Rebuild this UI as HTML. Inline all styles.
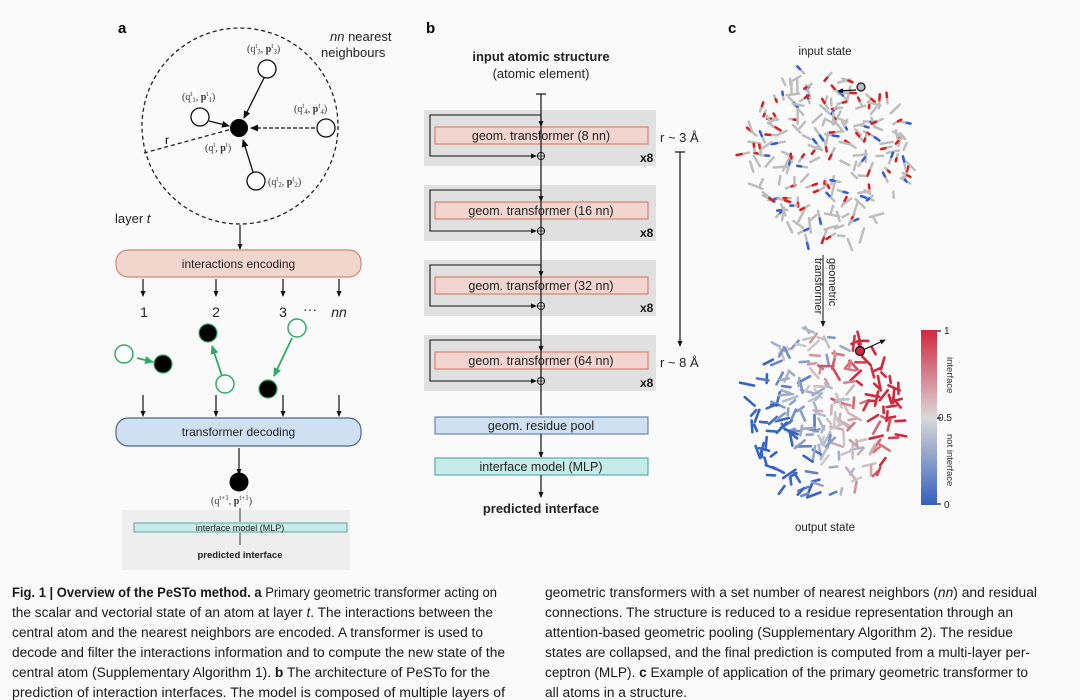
<!DOCTYPE html>
<html><head><meta charset="utf-8"><style>
html,body{margin:0;padding:0;background:#fafafa;}
svg{display:block;font-family:"Liberation Sans",sans-serif;}
</style></head><body>
<svg id="s" width="1080" height="700" viewBox="0 0 1080 700" xmlns="http://www.w3.org/2000/svg">
<defs>
<marker id="ah" markerWidth="8" markerHeight="8" refX="7" refY="4" orient="auto" markerUnits="userSpaceOnUse"><path d="M0,0.5 L8,4 L0,7.5 z" fill="#111"/></marker>
<marker id="ahs" markerWidth="6" markerHeight="6" refX="5" refY="3" orient="auto" markerUnits="userSpaceOnUse"><path d="M0,0.5 L6,3 L0,5.5 z" fill="#111"/></marker>
<marker id="ag" markerWidth="9" markerHeight="9" refX="8" refY="4.5" orient="auto" markerUnits="userSpaceOnUse"><path d="M0,0.5 L9,4.5 L0,8.5 z" fill="#2faa6a"/></marker>
<linearGradient id="cb" x1="0" y1="0" x2="0" y2="1"><stop offset="0" stop-color="#d1273f"/><stop offset="0.5" stop-color="#d9d9d9"/><stop offset="1" stop-color="#3560bd"/></linearGradient>
</defs>
<rect width="1080" height="700" fill="#fafafa"/>

<!-- Panel a -->
<text x="118" y="33" font-size="15" font-weight="bold">a</text>
<circle cx="240" cy="126" r="98" fill="none" stroke="#222" stroke-width="1.3" stroke-dasharray="4,3"/>
<text x="330" y="41" font-size="13" fill="#222"><tspan font-style="italic">nn</tspan> nearest</text>
<text x="321" y="57" font-size="13" fill="#222">neighbours</text>
<line x1="144" y1="153" x2="232" y2="129" stroke="#222" stroke-width="1.3" stroke-dasharray="4,3"/>
<text x="165" y="144" font-size="12">r</text>
<line x1="264" y1="78" x2="244" y2="118" stroke="#111" stroke-width="1.3" marker-end="url(#ah)"/>
<line x1="209" y1="121" x2="229" y2="126" stroke="#111" stroke-width="1.3" marker-end="url(#ah)"/>
<line x1="315" y1="128" x2="251" y2="128" stroke="#111" stroke-width="1.3" stroke-dasharray="4,2" marker-end="url(#ah)"/>
<line x1="253" y1="172" x2="243" y2="140" stroke="#111" stroke-width="1.3" marker-end="url(#ah)"/>
<circle cx="239" cy="128" r="9" fill="#000"/>
<circle cx="267" cy="69" r="9" fill="#fff" stroke="#111" stroke-width="1.3"/>
<circle cx="200" cy="117" r="9" fill="#fff" stroke="#111" stroke-width="1.3"/>
<circle cx="326" cy="128" r="9" fill="#fff" stroke="#111" stroke-width="1.3"/>
<circle cx="256" cy="181" r="9" fill="#fff" stroke="#111" stroke-width="1.3"/>
<g font-family="Liberation Serif,serif" font-size="10" fill="#333">
<text x="247" y="52">(q<tspan font-size="7" dy="-4">t</tspan><tspan font-size="7" dy="6">3</tspan><tspan dy="-2">, </tspan><tspan font-weight="bold">p</tspan><tspan font-size="7" dy="-4">t</tspan><tspan font-size="7" dy="6">3</tspan><tspan dy="-2">)</tspan></text>
<text x="182" y="100">(q<tspan font-size="7" dy="-4">t</tspan><tspan font-size="7" dy="6">1</tspan><tspan dy="-2">, </tspan><tspan font-weight="bold">p</tspan><tspan font-size="7" dy="-4">t</tspan><tspan font-size="7" dy="6">1</tspan><tspan dy="-2">)</tspan></text>
<text x="294" y="112">(q<tspan font-size="7" dy="-4">t</tspan><tspan font-size="7" dy="6">4</tspan><tspan dy="-2">, </tspan><tspan font-weight="bold">p</tspan><tspan font-size="7" dy="-4">t</tspan><tspan font-size="7" dy="6">4</tspan><tspan dy="-2">)</tspan></text>
<text x="205" y="151">(q<tspan font-size="7" dy="-4">t</tspan><tspan dy="4">, </tspan><tspan font-weight="bold">p</tspan><tspan font-size="7" dy="-4">t</tspan><tspan dy="4">)</tspan></text>
<text x="268" y="185">(q<tspan font-size="7" dy="-4">t</tspan><tspan font-size="7" dy="6">2</tspan><tspan dy="-2">, </tspan><tspan font-weight="bold">p</tspan><tspan font-size="7" dy="-4">t</tspan><tspan font-size="7" dy="6">2</tspan><tspan dy="-2">)</tspan></text>
</g>
<text x="115" y="223" font-size="13" fill="#222">layer <tspan font-style="italic">t</tspan></text>
<line x1="240" y1="225" x2="240" y2="249" stroke="#111" stroke-width="1.2" marker-end="url(#ahs)"/>
<rect x="116" y="250" width="245" height="27" rx="12" fill="#f1d6ce" stroke="#c98a7c" stroke-width="1.2"/>
<text x="238.5" y="268" font-size="12" text-anchor="middle" fill="#222">interactions encoding</text>
<g stroke="#111" stroke-width="1.2">
<line x1="143" y1="279" x2="143" y2="296" marker-end="url(#ahs)"/>
<line x1="216" y1="279" x2="216" y2="296" marker-end="url(#ahs)"/>
<line x1="283" y1="279" x2="283" y2="296" marker-end="url(#ahs)"/>
<line x1="339" y1="279" x2="339" y2="296" marker-end="url(#ahs)"/>
<line x1="143" y1="395" x2="143" y2="416" marker-end="url(#ahs)"/>
<line x1="216" y1="395" x2="216" y2="416" marker-end="url(#ahs)"/>
<line x1="283" y1="395" x2="283" y2="416" marker-end="url(#ahs)"/>
<line x1="339" y1="395" x2="339" y2="416" marker-end="url(#ahs)"/>
</g>
<g font-size="14" fill="#222" text-anchor="middle">
<text x="144" y="317">1</text><text x="216" y="317">2</text><text x="283" y="317">3</text>
<text x="310" y="314">···</text><text x="339" y="317" font-style="italic">nn</text>
</g>
<line x1="137" y1="358" x2="153" y2="362" stroke="#2faa6a" stroke-width="1.8" marker-end="url(#ag)"/>
<line x1="222" y1="376" x2="212" y2="346" stroke="#2faa6a" stroke-width="1.8" marker-end="url(#ag)"/>
<line x1="292" y1="338" x2="274" y2="376" stroke="#2faa6a" stroke-width="1.8" marker-end="url(#ag)"/>
<circle cx="124" cy="354" r="9" fill="#fff" stroke="#2faa6a" stroke-width="1.5"/>
<circle cx="163" cy="364" r="9" fill="#000" stroke="#2faa6a" stroke-width="1.2"/>
<circle cx="208" cy="333" r="9" fill="#000" stroke="#2faa6a" stroke-width="1.2"/>
<circle cx="225" cy="384" r="9" fill="#fff" stroke="#2faa6a" stroke-width="1.5"/>
<circle cx="297" cy="328" r="9" fill="#fff" stroke="#2faa6a" stroke-width="1.5"/>
<circle cx="268" cy="389" r="9" fill="#000" stroke="#2faa6a" stroke-width="1.2"/>
<rect x="116" y="418" width="245" height="28" rx="12" fill="#cfe0f2" stroke="#4b6685" stroke-width="1.2"/>
<text x="238.5" y="436" font-size="12" text-anchor="middle" fill="#222">transformer decoding</text>
<line x1="239" y1="448" x2="239" y2="474" stroke="#111" stroke-width="1.2" marker-end="url(#ahs)"/>
<circle cx="239" cy="482" r="9.5" fill="#000"/>
<text x="211" y="504" font-family="Liberation Serif,serif" font-size="10" fill="#333">(q<tspan font-size="7" dy="-4">t+1</tspan><tspan dy="4">, </tspan><tspan font-weight="bold">p</tspan><tspan font-size="7" dy="-4">t+1</tspan><tspan dy="4">)</tspan></text>
<rect x="122" y="510" width="228" height="60" fill="#eeeeee"/>
<line x1="240" y1="508" x2="240" y2="522" stroke="#111" stroke-width="0.8"/>
<rect x="134" y="523" width="213" height="9" fill="#c6ecea" stroke="#5aa8a6" stroke-width="1"/>
<text x="240" y="531" font-size="9" text-anchor="middle" fill="#222">interface model (MLP)</text>
<line x1="240" y1="533" x2="240" y2="545" stroke="#111" stroke-width="0.8"/>
<text x="240" y="558" font-size="9.5" font-weight="bold" text-anchor="middle" fill="#222">predicted interface</text>

<!-- Panel b -->
<text x="426" y="33" font-size="15" font-weight="bold">b</text>
<text x="541" y="61" font-size="13" font-weight="bold" text-anchor="middle" fill="#222">input atomic structure</text>
<text x="541" y="78" font-size="13" text-anchor="middle" fill="#222">(atomic element)</text>
<line x1="536" y1="94" x2="546" y2="94" stroke="#111" stroke-width="1.2"/>
<g id="blocks"></g>
<line x1="541" y1="94" x2="541" y2="415" stroke="#111" stroke-width="1.2"/>
<text x="660" y="142" font-size="13" fill="#222">r ~ 3 Å</text>
<text x="660" y="367" font-size="13" fill="#222">r ~ 8 Å</text>
<line x1="675" y1="152" x2="685" y2="152" stroke="#111" stroke-width="1.2"/>
<line x1="680" y1="152" x2="680" y2="346" stroke="#111" stroke-width="1.2" marker-end="url(#ahs)"/>
<rect x="435" y="417" width="213" height="17" fill="#cfe0f2" stroke="#5a7fa8" stroke-width="1.1"/>
<text x="541" y="430" font-size="12.5" text-anchor="middle" fill="#222">geom. residue pool</text>
<line x1="541" y1="434" x2="541" y2="457" stroke="#111" stroke-width="1.2" marker-end="url(#ahs)"/>
<rect x="435" y="458" width="213" height="17" fill="#c6ecea" stroke="#4aa8a6" stroke-width="1.1"/>
<text x="541" y="471" font-size="12.5" text-anchor="middle" fill="#222">interface model (MLP)</text>
<line x1="541" y1="475" x2="541" y2="497" stroke="#111" stroke-width="1.2" marker-end="url(#ahs)"/>
<text x="541" y="513" font-size="13" font-weight="bold" text-anchor="middle" fill="#222">predicted interface</text>

<!-- Panel c -->
<text x="728" y="33" font-size="15" font-weight="bold">c</text>
<text x="825" y="55" font-size="11.5" text-anchor="middle" fill="#222">input state</text>
<g id="mol1"></g>
<g id="mol2"></g>
<line x1="856" y1="90" x2="838" y2="91" stroke="#111" stroke-width="1.2" marker-end="url(#ahs)"/>
<circle cx="861" cy="87" r="4" fill="#bbb" stroke="#111" stroke-width="1.2"/>
<line x1="823" y1="255" x2="823" y2="326" stroke="#333" stroke-width="1.2" marker-end="url(#ahs)"/>
<text transform="translate(829,258) rotate(90)" font-size="11" fill="#222">geometric</text>
<text transform="translate(815,258) rotate(90)" font-size="11" fill="#222">transformer</text>
<line x1="863" y1="350" x2="885" y2="340" stroke="#111" stroke-width="1.2" marker-end="url(#ahs)"/>
<circle cx="860" cy="351" r="4.5" fill="#d1273f" stroke="#111" stroke-width="1.2"/>
<rect x="921" y="330" width="16" height="175" fill="url(#cb)"/>
<g stroke="#111" stroke-width="1.2"><line x1="937" y1="331" x2="941" y2="331"/><line x1="937" y1="418" x2="941" y2="418"/><line x1="937" y1="504" x2="941" y2="504"/></g>
<g font-size="10" fill="#222"><text x="944" y="334">1</text><text x="938" y="421">0.5</text><text x="944" y="508">0</text></g>
<text transform="translate(947,357) rotate(90)" font-size="9.5" fill="#333">interface</text>
<text transform="translate(947,434) rotate(90)" font-size="9.5" fill="#333">not interface</text>
<text x="825" y="531" font-size="11.5" text-anchor="middle" fill="#222">output state</text>

<!-- Caption -->
<g font-size="13.5" fill="#1a1a1a">
<text x="12" y="597" textLength="485" lengthAdjust="spacingAndGlyphs"><tspan font-weight="bold">Fig. 1 | Overview of the PeSTo method. a</tspan> Primary geometric transformer acting on</text>
<text x="12" y="617" textLength="481" lengthAdjust="spacingAndGlyphs">the scalar and vectorial state of an atom at layer <tspan font-style="italic">t</tspan>. The interactions between the</text>
<text x="12" y="637" textLength="471" lengthAdjust="spacingAndGlyphs">central atom and the nearest neighbors are encoded. A transformer is used to</text>
<text x="12" y="657" textLength="493" lengthAdjust="spacingAndGlyphs">decode and filter the interactions information and to compute the new state of the</text>
<text x="12" y="677" textLength="478" lengthAdjust="spacingAndGlyphs">central atom (Supplementary Algorithm 1). <tspan font-weight="bold">b</tspan> The architecture of PeSTo for the</text>
<text x="12" y="697" textLength="493" lengthAdjust="spacingAndGlyphs">prediction of interaction interfaces. The model is composed of multiple layers of</text>
<text x="545" y="597" textLength="492" lengthAdjust="spacingAndGlyphs">geometric transformers with a set number of nearest neighbors (<tspan font-style="italic">nn</tspan>) and residual</text>
<text x="545" y="617" textLength="468" lengthAdjust="spacingAndGlyphs">connections. The structure is reduced to a residue representation through an</text>
<text x="545" y="637" textLength="468" lengthAdjust="spacingAndGlyphs">attention-based geometric pooling (Supplementary Algorithm 2). The residue</text>
<text x="545" y="657" textLength="485" lengthAdjust="spacingAndGlyphs">states are collapsed, and the final prediction is computed from a multi-layer per-</text>
<text x="545" y="677" textLength="483" lengthAdjust="spacingAndGlyphs">ceptron (MLP). <tspan font-weight="bold">c</tspan> Example of application of the primary geometric transformer to</text>
<text x="545" y="697" textLength="142" lengthAdjust="spacingAndGlyphs">all atoms in a structure.</text>
</g>
</svg>
<script>
var NS="http://www.w3.org/2000/svg";
function el(p,t,a){var e=document.createElementNS(NS,t);for(var k in a)e.setAttribute(k,a[k]);p.appendChild(e);return e;}
var B=document.getElementById("blocks");
var labs=["geom. transformer (8 nn)","geom. transformer (16 nn)","geom. transformer (32 nn)","geom. transformer (64 nn)"];
[110,185,260,335].forEach(function(y,i){
 el(B,"rect",{x:424,y:y,width:232,height:56,fill:"#e0e0e0"});
 el(B,"rect",{x:435,y:y+17,width:213,height:17,fill:"#f3d5cf",stroke:"#d07a68","stroke-width":1.1});
 var t=el(B,"text",{x:541,y:y+30,"font-size":12.5,"text-anchor":"middle",fill:"#222"});t.textContent=labs[i];
 el(B,"polyline",{points:"541,"+(y+5)+" 430,"+(y+5)+" 430,"+(y+46)+" 536,"+(y+46),fill:"none",stroke:"#111","stroke-width":1.1,"marker-end":"url(#ahs)"});
 el(B,"line",{x1:541,y1:y+5,x2:541,y2:y+16,stroke:"#111","stroke-width":1.1,"marker-end":"url(#ahs)"});
 el(B,"circle",{cx:541,cy:y+46,r:3.5,fill:"#fff",stroke:"#111","stroke-width":1});
 el(B,"line",{x1:538,y1:y+46,x2:544,y2:y+46,stroke:"#111","stroke-width":0.8});
 el(B,"line",{x1:541,y1:y+43,x2:541,y2:y+49,stroke:"#111","stroke-width":0.8});
 var x=el(B,"text",{x:640,y:y+52,"font-size":12,"font-weight":"bold",fill:"#111"});x.textContent="x8";
});
var s=12345;function r(){s=(s*1103515245+12345)%2147483648;return s/2147483648;}
function blob(g,cx,cy,rx,ry,n,colf,sw){
 for(var i=0;i<n;i++){
  var a=r()*6.283,d=Math.sqrt(r());
  var x=cx+Math.cos(a)*rx*d,y=cy+Math.sin(a)*ry*d;
  var ang=r()*6.283,L=6+r()*9;
  var x2=x+Math.cos(ang)*L,y2=y+Math.sin(ang)*L;
  var c=colf(x,y);
  el(g,"line",{x1:x.toFixed(1),y1:y.toFixed(1),x2:x2.toFixed(1),y2:y2.toFixed(1),stroke:c[0],"stroke-width":sw,"stroke-linecap":"round"});
  if(c[1]){var f=0.6;el(g,"line",{x1:(x+(x2-x)*f).toFixed(1),y1:(y+(y2-y)*f).toFixed(1),x2:x2.toFixed(1),y2:y2.toFixed(1),stroke:c[1],"stroke-width":sw,"stroke-linecap":"round"});}
 }
}
blob(document.getElementById("mol1"),828,155,80,88,200,function(){var q=r();return ["#bdbdbd",q<0.3?"#e01b1b":(q<0.5?"#2f5fd6":null)];},2.5);
blob(document.getElementById("mol2"),825,415,78,86,220,function(x,y){
 var t=(x-800)/50+(345-y)/120; if(y<355&&x<845)t=-0.1;
 var v=Math.max(-1,Math.min(1,t+(r()-0.5)*0.8));
 var c;if(v>0){c="rgb("+Math.round(205+(209-205)*v)+","+Math.round(205-(205-40)*v)+","+Math.round(205-(205-60)*v)+")";}
 else{v=-v;c="rgb("+Math.round(205-(205-55)*v)+","+Math.round(205-(205-100)*v)+","+Math.round(205-(205-195)*v)+")";}
 return [c,null];},2.6);
</script>
</body></html>
